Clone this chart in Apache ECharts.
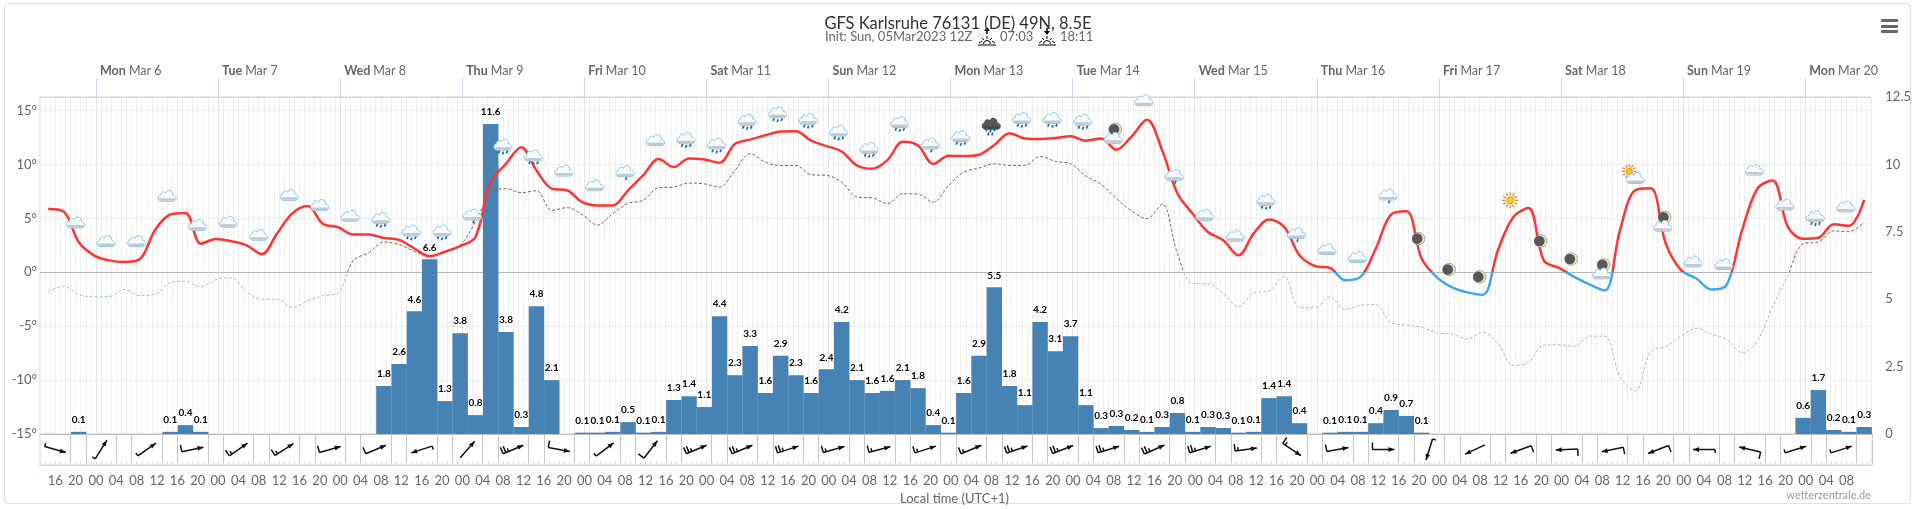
<!DOCTYPE html>
<html>
<head>
<meta charset="utf-8">
<title>GFS Karlsruhe</title>
<style>
  html, body { margin: 0; padding: 0; background: #fff; }
  #chart { width: 1914px; height: 509px; }
</style>
<script src="https://cdn.jsdelivr.net/npm/echarts@6/dist/echarts.min.js"></script>
</head>
<body>
<div id="chart"></div>
<script>
// hours are counted local time from Mar 5 00:00
const startHour = 13
const endHour = 373

const dayHours = [24, 48, 72, 96, 120, 144, 168, 192, 216, 240, 264, 288, 312, 336, 360]
const dayNames = ['Mon', 'Tue', 'Wed', 'Thu', 'Fri', 'Sat', 'Sun', 'Mon', 'Tue', 'Wed', 'Thu', 'Fri', 'Sat', 'Sun', 'Mon']
const dayDates = ['Mar 6', 'Mar 7', 'Mar 8', 'Mar 9', 'Mar 10', 'Mar 11', 'Mar 12', 'Mar 13', 'Mar 14', 'Mar 15', 'Mar 16', 'Mar 17', 'Mar 18', 'Mar 19', 'Mar 20']

// one reading every 3 hours, first at 14:36
const temperature = [
  5.86, 5.65, 2.8, 1.57, 1.1, 0.95, 1.2, 3.9, 5.35, 5.5,
  2.65, 3.08, 2.87, 2.5, 1.67, 3.6, 5.46, 6.14, 4.5, 4.17,
  3.5, 3.5, 3.18, 3.0, 2.2, 1.48, 1.9, 2.43, 3.27, 8.36,
  10.06, 11.6, 9.44, 7.76, 7.6, 6.5, 6.2, 6.2, 7.6, 9.0,
  10.5, 9.75, 10.55, 10.46, 10.15, 11.9, 12.3, 12.7, 13.05, 13.08,
  12.2, 11.7, 11.2, 9.9, 9.6, 10.4, 12.1, 11.76, 10.03, 10.8,
  10.77, 10.9, 11.8, 12.9, 12.4, 12.35, 12.44, 12.6, 12.2, 12.4,
  11.36, 12.6, 14.14, 11.3, 7.3, 5.43, 3.73, 2.96, 1.57, 3.6,
  4.9, 4.2, 1.57, 0.58, 0.4, -0.74, -0.43, 2.2, 5.35, 5.65,
  1.27, -0.47, -1.4, -1.87, -2.1, 2.04, 5.1, 5.95, 1.1, 0.4,
  -0.43, -1.13, -1.7, 3.9, 7.6, 7.78, 2.65, 0.19, -0.58, -1.6,
  -1.15, 3.9, 7.76, 8.5, 4.2, 3.1, 3.2, 4.44, 4.3, 6.7
]
const dewPoint = [
  -1.82, -1.3, -2.07, -2.28, -2.25, -1.6, -2.16, -2.04, -0.96, -0.83,
  -1.36, -0.68, -0.52, -1.82, -2.5, -2.5, -3.27, -2.65, -2.19, -1.9,
  1.1, 1.79, 2.8, 2.56, 1.94, 1.48, 1.88, 2.5, 4.66, 7.35,
  7.75, 7.38, 7.56, 5.74, 5.99, 5.34, 4.38, 5.43, 6.39, 6.67,
  7.84, 7.9, 8.27, 8.2, 7.9, 9.44, 10.99, 10.2, 9.9, 9.9,
  9.04, 8.98, 8.36, 6.97, 6.9, 6.36, 7.28, 7.25, 6.5, 8.05,
  9.29, 9.66, 10.06, 9.9, 9.9, 10.74, 10.28, 10.06, 8.92, 8.15,
  6.82, 5.68, 4.97, 6.3, 1.73, -1.05, -1.05, -1.97, -3.2, -1.91,
  -1.73, -0.37, -3.27, -3.27, -2.28, -3.46, -3.06, -3.0, -4.69, -4.9,
  -5.1, -5.62, -5.74, -6.2, -5.56, -6.6, -8.64, -8.37, -6.76, -6.73,
  -6.88, -5.93, -5.93, -9.7, -11.0, -7.38, -6.9, -5.93, -5.2, -5.74,
  -6.23, -7.47, -6.36, -3.2, -0.28, 2.65, 2.8, 3.83, 3.76, 4.66
]

// one bar every 3 hours, first centred on 20:36
const precipMm = [
  0.08, 0, 0, 0, 0, 0, 0.08, 0.33, 0.08, 0,
  0, 0, 0, 0, 0, 0, 0, 0, 0, 0,
  1.78, 2.6, 4.55, 6.48, 1.22, 3.74, 0.7, 11.5, 3.78, 0.26,
  4.74, 2.0, 0, 0.05, 0.05, 0.08, 0.44, 0.05, 0.08, 1.26,
  1.4, 1.0, 4.37, 2.18, 3.26, 1.52, 2.9, 2.18, 1.52, 2.4,
  4.15, 2.0, 1.52, 1.6, 2.0, 1.7, 0.33, 0.05, 1.52, 2.9,
  5.44, 1.78, 1.07, 4.15, 3.07, 3.63, 1.07, 0.22, 0.3, 0.15,
  0.08, 0.26, 0.78, 0.08, 0.26, 0.22, 0.05, 0.08, 1.33, 1.4,
  0.4, 0, 0.05, 0.08, 0.08, 0.4, 0.89, 0.67, 0.05, 0,
  0, 0, 0, 0, 0, 0, 0, 0, 0, 0,
  0, 0, 0, 0, 0, 0, 0, 0, 0, 0,
  0, 0, 0, 0.6, 1.63, 0.15, 0.08, 0.26
]
const precipLabels = [
  '0.1', '', '', '', '', '', '0.1', '0.4', '0.1', '',
  '', '', '', '', '', '', '', '', '', '',
  '1.8', '2.6', '4.6', '6.6', '1.3', '3.8', '0.8', '11.6', '3.8', '0.3',
  '4.8', '2.1', '', '0.1', '0.1', '0.1', '0.5', '0.1', '0.1', '1.3',
  '1.4', '1.1', '4.4', '2.3', '3.3', '1.6', '2.9', '2.3', '1.6', '2.4',
  '4.2', '2.1', '1.6', '1.6', '2.1', '1.8', '0.4', '0.1', '1.6', '2.9',
  '5.5', '1.8', '1.1', '4.2', '3.1', '3.7', '1.1', '0.3', '0.3', '0.2',
  '0.1', '0.3', '0.8', '0.1', '0.3', '0.3', '0.1', '0.1', '1.4', '1.4',
  '0.4', '', '0.1', '0.1', '0.1', '0.4', '0.9', '0.7', '0.1', '',
  '', '', '', '', '', '', '', '', '', '',
  '', '', '', '', '', '', '', '', '', '',
  '', '', '', '0.6', '1.7', '0.2', '0.1', '0.3'
]

// one icon every 6 hours, first at 20:00
const iconY = [
  4.57, 2.84, 2.84, 7.04, 4.35, 4.63, 3.43, 7.13, 6.2, 5.19,
  4.81, 3.64, 3.64, 5.12, 11.6, 10.6, 9.38, 8.02, 9.14, 12.2,
  12.2, 11.7, 13.9, 14.6, 14.0, 12.9, 11.3, 13.7, 11.7, 12.4,
  13.45, 14.07, 14.07, 13.9, 12.6, 15.9, 8.8, 5.28, 3.33, 6.48,
  3.4, 2.1, 1.36, 6.97, 3.12, 0.25, -0.43, 6.67, 2.9, 1.23,
  0.03, 9.07, 4.44, 0.95, 0.71, 9.47, 6.23, 4.97, 6.05
]
const iconKinds = [
  'cloud', 'cloud', 'cloud', 'cloud', 'cloud', 'cloud', 'cloud', 'cloud', 'cloud', 'cloud',
  'rain', 'rain', 'rain', 'light', 'rain', 'rain', 'cloud', 'cloud', 'light', 'cloud',
  'rain', 'rain', 'rain', 'rain', 'rain', 'rain', 'rain', 'rain', 'light', 'rain',
  'heavy', 'rain', 'rain', 'rain', 'mooncloud', 'cloud', 'light', 'cloud', 'cloud', 'rain',
  'light', 'cloud', 'cloud', 'light', 'moon', 'moon', 'moon', 'sun', 'moon', 'moon',
  'mooncloud', 'suncloud', 'mooncloud', 'cloud', 'cloud', 'cloud', 'cloud', 'rain', 'cloud'
]

// one barb every 9 hours, first at 16:00
const windBearing = [
  106, 32, 55, 78, 55, 57, 74, 67, 252, 41,
  67, 101, 53, 38, 67, 67, 72, 74, 75, 72,
  67, 71, 69, 73, 66, 73, 82, 124, 79, 90,
  197, 245, 250, 267, 258, 249, 270, 283, 73, 72
]
const windKnots = [
  5, 5, 5, 10, 15, 15, 10, 10, 5, 0,
  25, 10, 5, 10, 25, 25, 25, 15, 15, 15,
  15, 25, 25, 25, 25, 25, 15, 15, 10, 10,
  5, 0, 10, 10, 10, 10, 5, 10, 5, 5
]

const tempSeries = temperature.map((v, i) => [14.6 + i * 3, v])
const dewSeries = dewPoint.map((v, i) => [14.6 + i * 3, v])
const precipSeries = precipMm.map((v, i) => [20.6 + i * 3, v])
const iconSeries = iconY.map((v, i) => [20 + i * 6, v])
const windSeries = windBearing.map((v, i) => [16 + i * 9, 0.5])

const hourTicks = []
for (let h = 16; h <= 368; h += 4) hourTicks.push(h)
const windLines = []
for (let h = 19; h < endHour; h += 9) windLines.push(h, h + 3)

const fontName = 'Lato, "Open Sans", sans-serif'
const cloudPath = 'M-6,5 C-10,5 -10,-1 -6.5,-1 C-7,-4 -3,-5 -1.5,-3 C0,-7 6,-6 5.5,-1 C10,-1 10,5 6,5 Z'

function drawCloud(x, y, dark) {
  return [
    {
      type: 'path',
      shape: { pathData: cloudPath, layout: 'cover', x: x - 9, y: y - 6, width: 18, height: 11 },
      style: { fill: dark ? '#555a60' : '#f4fafd', stroke: dark ? '#44484c' : '#8fc8e8', lineWidth: 1 }
    },
    {
      type: 'rect',
      shape: { x: x - 8, y: y + 2, width: 16, height: 2.5, r: 1 },
      style: { fill: dark ? '#44484c' : '#c4c8cc' }
    }
  ]
}

function drawDrops(x, y, spots) {
  return spots.map(s => ({
    type: 'line',
    shape: { x1: x + s[0] + 0.7, y1: y + s[1] - 1.5, x2: x + s[0] - 0.5, y2: y + s[1] + 1.2 },
    style: { stroke: '#1c6fb0', lineWidth: 1.7 }
  }))
}

function drawMoon(x, y) {
  return [
    { type: 'circle', shape: { cx: x, cy: y, r: 6.3 }, style: { fill: '#efe9bf', stroke: '#8a8a70', lineWidth: 0.7 } },
    { type: 'circle', shape: { cx: x - 1.3, cy: y, r: 5.3 }, style: { fill: '#55585a' } }
  ]
}

function drawSun(x, y, r) {
  const rays = []
  for (let i = 0; i < 12; i++) {
    const a = i * Math.PI / 6
    rays.push({
      type: 'line',
      shape: {
        x1: x + Math.cos(a) * r * 1.4, y1: y + Math.sin(a) * r * 1.4,
        x2: x + Math.cos(a) * r * 2.3, y2: y + Math.sin(a) * r * 2.3
      },
      style: { stroke: '#f47a10', lineWidth: 1.2 }
    })
  }
  rays.push({ type: 'circle', shape: { cx: x, cy: y, r: r }, style: { fill: '#ffc810', stroke: '#f47a10', lineWidth: 0.8 } })
  return rays
}

function renderIcon(params, api) {
  const p = api.coord([api.value(0), api.value(1)])
  const x = p[0], y = p[1]
  const kind = iconKinds[params.dataIndex]
  let children = []
  if (kind === 'cloud') children = drawCloud(x, y, false)
  if (kind === 'light') children = drawCloud(x, y - 2, false).concat(drawDrops(x + 1, y + 5, [[0, 0]]))
  if (kind === 'rain') children = drawCloud(x, y - 2, false).concat(drawDrops(x, y + 5, [[-4, 0], [0, 1], [4, 0]]))
  if (kind === 'heavy') children = drawCloud(x, y - 3, true).concat(drawDrops(x, y + 4, [[-5, -1], [-1, 0], [3, -1], [-3, 3], [1, 3]]))
  if (kind === 'moon') children = drawMoon(x, y)
  if (kind === 'sun') children = drawSun(x, y, 3.5)
  if (kind === 'mooncloud') children = drawMoon(x + 2, y - 7).concat(drawCloud(x, y + 2, false))
  if (kind === 'suncloud') children = drawSun(x - 3, y - 3, 3.2).concat(drawCloud(x + 3, y + 4, false))
  return { type: 'group', children: children }
}

function renderBarb(params, api) {
  const c = api.coord([api.value(0), api.value(1)])
  const i = params.dataIndex
  const b = windBearing[i] * Math.PI / 180
  const ux = Math.sin(b), uy = -Math.cos(b)
  const fx = -Math.cos(b), fy = -Math.sin(b)
  const tail = [c[0] - ux * 11, c[1] - uy * 11]
  const head = [c[0] + ux * 11, c[1] + uy * 11]
  const style = { stroke: '#111', lineWidth: 1.5, fill: 'none' }
  const children = [{ type: 'polyline', shape: { points: [tail, head] }, style: style }]
  let left = windKnots[i]
  let at = 0
  while (left >= 5) {
    const len = left >= 10 ? 7 : 3.5
    const sx = tail[0] + ux * at, sy = tail[1] + uy * at
    children.push({
      type: 'polyline',
      shape: { points: [[sx, sy], [sx + fx * len, sy + fy * len]] },
      style: style
    })
    left -= left >= 10 ? 10 : 5
    at += 3
  }
  children.push({
    type: 'polygon',
    shape: {
      points: [
        head,
        [head[0] - ux * 6 + fx * 2.4, head[1] - uy * 6 + fy * 2.4],
        [head[0] - ux * 6 - fx * 2.4, head[1] - uy * 6 - fy * 2.4]
      ]
    },
    style: { fill: '#111' }
  })
  return { type: 'group', children: children }
}

function sunGlyph(x, y, arrowUp) {
  const rays = [[-8, 8, -5, 6], [-5, 3, -3, 5], [0, 1, 0, 4], [5, 3, 3, 5], [8, 8, 5, 6]]
  const parts = rays.map(r => ({
    type: 'line',
    shape: { x1: x + r[0], y1: y + r[1], x2: x + r[2], y2: y + r[3] },
    style: { stroke: '#000', lineWidth: 1 }
  }))
  parts.push({ type: 'arc', shape: { cx: x, cy: y + 9, r: 3.5, startAngle: Math.PI, endAngle: 0 }, style: { stroke: '#000', fill: 'none', lineWidth: 1 } })
  parts.push({ type: 'line', shape: { x1: x - 9, y1: y + 10, x2: x + 9, y2: y + 10 }, style: { stroke: '#000', lineWidth: 1 } })
  parts.push({ type: 'line', shape: { x1: x, y1: y - 7, x2: x, y2: y - 1 }, style: { stroke: '#000', lineWidth: 1.5 } })
  const tip = arrowUp ? y - 8 : y
  const base = y - 4
  parts.push({ type: 'polygon', shape: { points: [[x, tip], [x - 3, base], [x + 3, base]] }, style: { fill: '#000' } })
  return parts
}

const chart = echarts.init(document.getElementById('chart'))

const option = {
  animation: false,
  textStyle: { fontFamily: fontName },
  title: {
    text: 'GFS Karlsruhe 76131 (DE) 49N, 8.5E',
    left: 953,
    top: 10,
    textAlign: 'center',
    textStyle: { fontFamily: fontName, fontSize: 16.5, fontWeight: 'normal', color: '#333' }
  },
  graphic: [
    { type: 'rect', shape: { x: 4.5, y: 3.5, width: 1906, height: 500, r: 4 }, style: { fill: 'none', stroke: '#e0e0e0', lineWidth: 1.2 }, z: -1 },
    { type: 'text', left: 825, top: 30, style: { text: 'Init: Sun, 05Mar2023 12Z', fontFamily: fontName, fontSize: 13, fill: '#666' } },
    { type: 'text', left: 1000, top: 30, style: { text: '07:03', fontFamily: fontName, fontSize: 13, fill: '#666' } },
    { type: 'text', left: 1060, top: 30, style: { text: '18:11', fontFamily: fontName, fontSize: 13, fill: '#666' } },
    { type: 'group', children: sunGlyph(987, 35, true) },
    { type: 'group', children: sunGlyph(1047, 35, false) },
    { type: 'rect', shape: { x: 1881, y: 19, width: 17, height: 3, r: 1 }, style: { fill: '#666' } },
    { type: 'rect', shape: { x: 1881, y: 25, width: 17, height: 3, r: 1 }, style: { fill: '#666' } },
    { type: 'rect', shape: { x: 1881, y: 30, width: 17, height: 3, r: 1 }, style: { fill: '#666' } },
    { type: 'text', left: 900, top: 492, style: { text: 'Local time (UTC+1)', fontFamily: fontName, fontSize: 13, fill: '#666' } },
    { type: 'text', right: 43, top: 490, style: { text: 'wetterzentrale.de', fontFamily: fontName, fontSize: 11, fill: '#999' } }
  ],
  grid: [
    { left: 40, right: 42, top: 97, height: 337, show: true, borderColor: '#ccd6eb', borderWidth: 1 },
    { left: 40, right: 42, top: 434, height: 31, show: true, borderColor: '#ccd6eb', borderWidth: 1 }
  ],
  xAxis: [
    {
      // hourly grid, its line is the zero line
      gridIndex: 0, type: 'value', min: startHour, max: endHour, interval: 1,
      axisLine: { onZero: true, lineStyle: { color: '#b8b8b8', width: 1.2 } },
      axisTick: { show: false },
      axisLabel: { show: false },
      splitLine: { show: true, lineStyle: { color: '#efefef', width: 1 } }
    },
    {
      // day ticks along the top
      gridIndex: 0, type: 'value', position: 'top', min: startHour, max: endHour,
      axisLine: { onZero: false, lineStyle: { color: '#ccd6eb' } },
      axisTick: { customValues: dayHours, length: 19, lineStyle: { color: '#ccd6eb' } },
      axisLabel: {
        customValues: dayHours,
        align: 'left',
        margin: 20,
        padding: [0, 0, 0, 4],
        formatter: v => {
          const i = dayHours.indexOf(v)
          return '{d|' + dayNames[i] + '} {m|' + dayDates[i] + '}'
        },
        rich: {
          d: { fontFamily: fontName, fontSize: 12.5, fontWeight: 'bold', color: '#666' },
          m: { fontFamily: fontName, fontSize: 12.5, color: '#666' }
        }
      },
      splitLine: { show: true, lineStyle: { color: '#e6e6e6', width: 1 } }
    },
    {
      gridIndex: 1, type: 'value', position: 'bottom', min: startHour, max: endHour, interval: 1,
      axisLine: { onZero: false, lineStyle: { color: '#ccd6eb' } },
      axisTick: { inside: true, length: 3, lineStyle: { color: '#ccd6eb' } },
      axisLabel: {
        customValues: hourTicks,
        margin: 9,
        color: '#666',
        fontSize: 13,
        formatter: v => String(v % 24).padStart(2, '0')
      },
      splitLine: { show: false }
    },
    {
      // separators of the wind strip
      gridIndex: 1, type: 'value', position: 'top', min: startHour, max: endHour,
      axisLine: { onZero: false, lineStyle: { color: '#c0c0c0', width: 1.2 } },
      axisTick: { show: false, customValues: windLines },
      axisLabel: { show: false },
      splitLine: { show: true, lineStyle: { color: '#c8c8c8', width: 1 } }
    }
  ],
  yAxis: [
    {
      gridIndex: 0, type: 'value', min: -15, max: 16.25, interval: 5,
      axisLine: { show: false },
      axisTick: { show: false },
      axisLabel: {
        color: '#666', fontSize: 13, margin: 3,
        formatter: v => (v % 5 === 0 ? v + '°' : '')
      },
      splitLine: { show: true, lineStyle: { color: '#eeeeee', width: 1 } }
    },
    {
      gridIndex: 0, type: 'value', position: 'right', min: 0, max: 12.5, interval: 2.5,
      axisLine: { show: false },
      axisTick: { show: false },
      axisLabel: { color: '#666', fontSize: 13, margin: 14 },
      splitLine: { show: false }
    },
    {
      gridIndex: 1, type: 'value', min: 0, max: 1,
      axisLine: { show: false }, axisTick: { show: false }, axisLabel: { show: false }, splitLine: { show: false }
    }
  ],
  visualMap: [
    {
      show: false, type: 'piecewise', seriesIndex: 1, dimension: 1,
      pieces: [{ min: -60, max: 0, color: '#3fa9e8' }, { min: 0, max: 60, color: '#ff3333' }]
    },
    {
      show: false, type: 'piecewise', seriesIndex: 2, dimension: 1,
      pieces: [{ min: -60, max: 0, color: '#9dbde8' }, { min: 0, max: 60, color: '#96565c' }]
    }
  ],
  series: [
    {
      name: 'Precipitation',
      type: 'bar',
      xAxisIndex: 0,
      yAxisIndex: 1,
      data: precipSeries,
      barWidth: 15.4,
      itemStyle: { color: '#4682b4' },
      label: {
        show: true,
        position: 'top',
        distance: 7,
        fontFamily: fontName,
        fontSize: 10,
        fontWeight: 'bold',
        color: '#000',
        textBorderColor: '#fff',
        textBorderWidth: 1.5,
        formatter: p => precipLabels[p.dataIndex]
      },
      z: 2
    },
    {
      name: 'Temperature',
      type: 'line',
      xAxisIndex: 0,
      yAxisIndex: 0,
      data: tempSeries,
      smooth: 0.35,
      showSymbol: false,
      lineStyle: { width: 2.5 },
      z: 4
    },
    {
      name: 'Dew point',
      type: 'line',
      xAxisIndex: 0,
      yAxisIndex: 0,
      data: dewSeries,
      smooth: 0.35,
      showSymbol: false,
      lineStyle: { width: 1, type: [3, 2] },
      z: 3
    },
    {
      name: 'Weather',
      type: 'custom',
      coordinateSystem: 'cartesian2d',
      xAxisIndex: 0,
      yAxisIndex: 0,
      data: iconSeries,
      encode: { x: 0, y: 1 },
      renderItem: renderIcon,
      clip: false,
      z: 5
    },
    {
      name: 'Wind',
      type: 'custom',
      coordinateSystem: 'cartesian2d',
      xAxisIndex: 3,
      yAxisIndex: 2,
      data: windSeries,
      encode: { x: 0, y: 1 },
      renderItem: renderBarb,
      clip: false,
      z: 5
    }
  ]
}

chart.setOption(option)
</script>
</body>
</html>
